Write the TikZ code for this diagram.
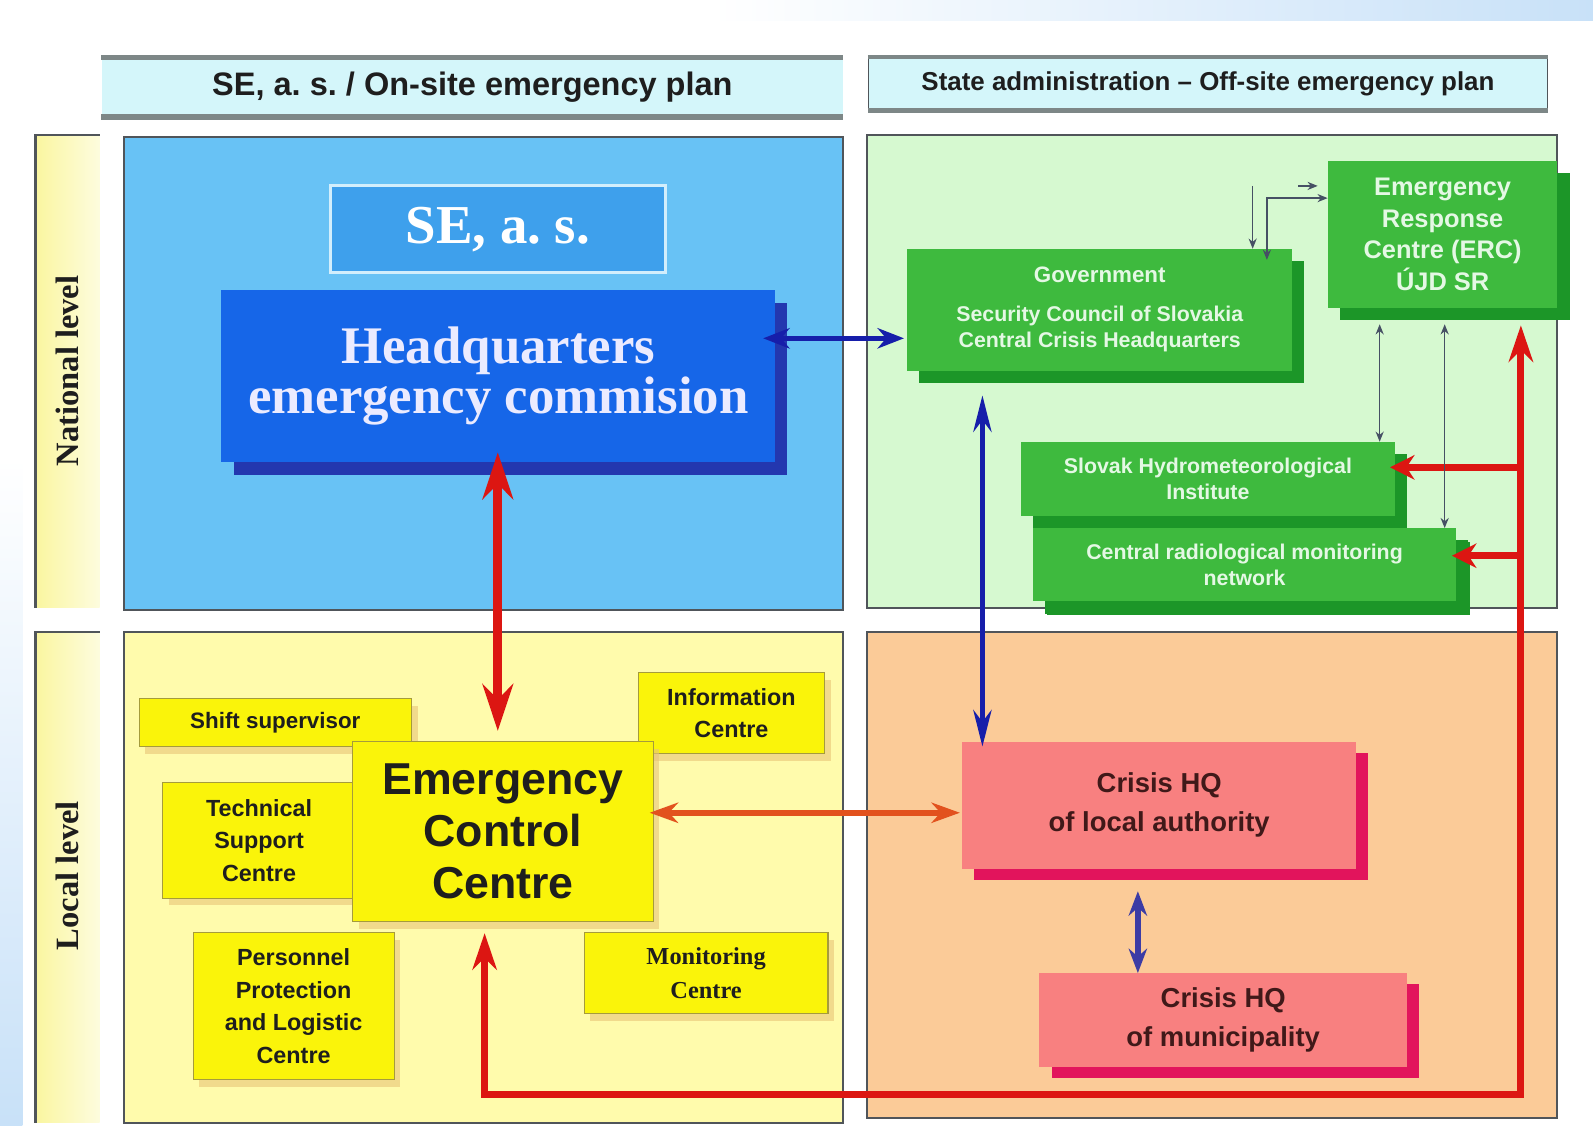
\documentclass[tikz,border=0pt]{standalone}
\usepackage{fontspec}
\setmainfont{Liberation Sans}
\newfontfamily\serifb{Liberation Serif}
\usetikzlibrary{arrows.meta,shadows}
\frenchspacing
\definecolor{bgblue}{RGB}{200,225,248}
\definecolor{hdrfill}{RGB}{212,246,250}
\definecolor{hdrgrey}{RGB}{125,135,135}
\definecolor{panelline}{RGB}{80,85,90}
\definecolor{lvlyellow}{RGB}{250,246,160}
\definecolor{pblue}{RGB}{104,194,245}
\definecolor{pgreen}{RGB}{214,249,208}
\definecolor{pyellow}{RGB}{255,251,172}
\definecolor{ppeach}{RGB}{251,203,152}
\definecolor{sefill}{RGB}{62,160,236}
\definecolor{seline}{RGB}{210,238,252}
\definecolor{hqfill}{RGB}{22,102,232}
\definecolor{hqshadow}{RGB}{35,55,175}
\definecolor{gfill}{RGB}{62,186,62}
\definecolor{gshadow}{RGB}{28,150,40}
\definecolor{gtext}{RGB}{228,248,228}
\definecolor{yfill}{RGB}{250,244,10}
\definecolor{yline}{RGB}{165,155,60}
\definecolor{yshadow}{RGB}{232,196,120}
\definecolor{sfill}{RGB}{248,128,128}
\definecolor{sshadow}{RGB}{226,20,92}
\definecolor{redarr}{RGB}{220,22,18}
\definecolor{orarr}{RGB}{226,82,30}
\definecolor{bluearr}{RGB}{22,30,170}
\definecolor{slatearr}{RGB}{60,60,165}
\definecolor{thinarr}{RGB}{70,80,100}
\definecolor{darktext}{RGB}{30,30,30}
\begin{document}
\begin{tikzpicture}[x=1pt,y=-1pt,
  panel/.style={draw=panelline, line width=2pt},
  box/.style={inner sep=0pt, align=center},
  gbox/.style={box, fill=gfill, text=gtext, font=\bfseries\fontsize{20}{26}\selectfont,
    drop shadow={shadow xshift=12pt, shadow yshift=-12pt, fill=gshadow, opacity=1}},
  ybox/.style={box, fill=yfill, draw=yline, line width=1pt, text=darktext,
    font=\bfseries\fontsize{23}{32}\selectfont,
    drop shadow={shadow xshift=6pt, shadow yshift=-7pt, fill=yshadow, opacity=0.6}},
  sbox/.style={box, fill=sfill, text=darktext!85!red, font=\bfseries\fontsize{27}{38}\selectfont,
    drop shadow={shadow xshift=12pt, shadow yshift=-11pt, fill=sshadow, opacity=1}},
  lvltext/.style={rotate=90, font=\serifb\bfseries\fontsize{32}{34}\selectfont, text=darktext},
  bigred/.style={draw=redarr, line width=9pt, arrows={Stealth[length=46pt,width=30pt]-Stealth[length=46pt,width=30pt]}},
  redloop/.style={draw=redarr, line width=7pt, line join=miter, arrows={Stealth[length=36pt,width=24pt]-Stealth[length=36pt,width=24pt]}},
  redbranch/.style={draw=redarr, line width=7pt, arrows={-Stealth[length=24pt,width=24pt]}},
  bluedbl/.style={draw=bluearr, line width=5pt, arrows={Stealth[length=26pt,width=20pt]-Stealth[length=26pt,width=20pt]}},
  bluevert/.style={draw=bluearr, line width=4.5pt, arrows={Stealth[length=36pt,width=18pt]-Stealth[length=36pt,width=18pt]}},
  orangedbl/.style={draw=orarr, line width=6pt, arrows={Stealth[length=28pt,width=20pt]-Stealth[length=28pt,width=20pt]}},
  slatedbl/.style={draw=slatearr, line width=6pt, arrows={Stealth[length=24pt,width=18pt]-Stealth[length=24pt,width=18pt]}},
  thindbl/.style={draw=thinarr, line width=1.3pt, arrows={Stealth[length=10pt,width=8pt]-Stealth[length=10pt,width=8pt]}},
  thinone/.style={draw=thinarr, line width=1.3pt, arrows={-Stealth[length=10pt,width=8pt]}}
]
\useasboundingbox (0,0) rectangle (1568,1108);
\fill[white] (0,0) rectangle (1568,1108);
\shade[left color=white, right color=bgblue] (700,0) rectangle (1568,20);
\shade[top color=white, bottom color=bgblue] (0,450) rectangle (22,1108);

% headers
\node[box, fill=hdrfill, minimum width=730pt, minimum height=58pt,
  font=\bfseries\fontsize{32}{34}\selectfont, text=darktext] (hl) at (465,86) {SE, a. s. / On-site emergency plan};
\draw[hdrgrey, line width=5pt] (hl.north west) -- (hl.north east);
\draw[hdrgrey, line width=5pt] (hl.south west) -- (hl.south east);
\node[box, fill=hdrfill, draw=panelline, line width=1.5pt, minimum width=668pt, minimum height=51pt,
  font=\bfseries\fontsize{25.5}{28}\selectfont, text=darktext] (hr) at (1189,82.5) {State administration -- Off-site emergency plan};
\draw[hdrgrey, line width=4pt] (hr.north west) -- (hr.north east);
\draw[hdrgrey, line width=4pt] (hr.south west) -- (hr.south east);

% level strips
\shade[left color=lvlyellow, right color=lvlyellow!35!white] (35,133) rectangle (98,598);
\draw[panelline, line width=2.5pt] (98,133) -| (35,598);
\node[lvltext] (natlbl) at (66,365) {National level};
\shade[left color=lvlyellow, right color=lvlyellow!35!white] (35,622) rectangle (98,1105);
\draw[panelline, line width=2.5pt] (98,622) -| (35,1105);
\node[lvltext] (loclbl) at (66,862) {Local level};

% panels
\filldraw[panel, fill=pblue] (122,135) rectangle (830,600);
\filldraw[panel, fill=pgreen] (853,133) rectangle (1533,598);
\filldraw[panel, fill=pyellow] (122,622) rectangle (830,1105);
\filldraw[panel, fill=ppeach] (853,622) rectangle (1533,1100);

% blue panel
\node[box, fill=sefill, draw=seline, line width=3pt, minimum width=330pt, minimum height=85pt,
  text=white, font=\serifb\bfseries\fontsize{54}{58}\selectfont] (se) at (490,225.5) {SE, a. s.};
\node[box, fill=hqfill, minimum width=545pt, minimum height=170pt, text=white!92!blue,
  drop shadow={shadow xshift=12pt, shadow yshift=-13pt, fill=hqshadow, opacity=1},
  font=\serifb\bfseries\fontsize{52}{50}\selectfont] (hq) at (490.5,370) {Headquarters\\emergency commision};

% green panel
\node[gbox, minimum width=379pt, minimum height=120pt, font=\bfseries\fontsize{22}{26}\selectfont] (gov) at (1082.5,305)
  {Government\\[12pt]{\fontsize{21}{26}\selectfont Security Council of Slovakia}\\{\fontsize{21}{26}\selectfont Central Crisis Headquarters}};
\node[gbox, minimum width=226pt, minimum height=145pt, font=\bfseries\fontsize{25}{31}\selectfont] (erc) at (1420,230.5)
  {Emergency\\Response\\Centre (ERC)\\ÚJD SR};
\node[gbox, minimum width=368pt, minimum height=73pt, font=\bfseries\fontsize{21}{26}\selectfont] (hydro) at (1189,471.5)
  {Slovak Hydrometeorological\\Institute};
\node[gbox, minimum width=416pt, minimum height=72pt, font=\bfseries\fontsize{21}{26}\selectfont,
  drop shadow={shadow xshift=14pt, shadow yshift=-13pt, fill=gshadow, opacity=1}] (crmn) at (1225,556)
  {Central radiological monitoring\\network};

% yellow panel
\node[ybox, minimum width=268pt, minimum height=47pt, font=\bfseries\fontsize{22}{26}\selectfont] (shift) at (271,711.5) {Shift supervisor};
\node[ybox, minimum width=184pt, minimum height=80pt] (info) at (720,702) {Information\\Centre};
\node[ybox, minimum width=190pt, minimum height=114pt] (tech) at (255,827) {Technical\\Support\\Centre};
\node[ybox, minimum width=198pt, minimum height=145pt] (pers) at (289,990.5) {Personnel\\Protection\\and Logistic\\Centre};
\node[ybox, minimum width=240pt, minimum height=80pt, font=\serifb\bfseries\fontsize{24}{33}\selectfont] (mon) at (695,958) {Monitoring\\Centre};
\node[ybox, minimum width=296pt, minimum height=177pt, font=\bfseries\fontsize{44}{51}\selectfont] (ecc) at (495,818.5) {Emergency\\Control\\Centre};

% peach panel
\node[sbox, minimum width=388pt, minimum height=125pt] (chqL) at (1141,792.5) {Crisis HQ\\of local authority};
\node[sbox, minimum width=362pt, minimum height=92pt] (chqM) at (1204,1004) {Crisis HQ\\of municipality};

% connectors
\coordinate (xHE) at (490,0);
\draw[bigred, shorten <=-10pt, shorten >=10pt] (hq.south -| xHE) -- (ecc.north -| xHE);

\coordinate (yHG) at (0,333);
\draw[bluedbl, shorten <=-12pt, shorten >=3pt] (hq.east |- yHG) -- (gov.west |- yHG);

\coordinate (xGC) at (967,0);
\draw[bluevert, shorten <=24pt, shorten >=-5pt] (gov.south -| xGC) -- (chqL.north -| xGC);

\coordinate (yEC) at (0,800);
\draw[orangedbl, shorten <=-4pt, shorten >=2pt] (ecc.east |- yEC) -- (chqL.west |- yEC);

\coordinate (xLM) at (1120,0);
\draw[slatedbl, shorten <=22pt] (chqL.south -| xLM) -- (chqM.north -| xLM);

\coordinate (rl) at (477,1077);
\coordinate (rr) at (1497,1077);
\draw[redloop, shorten <=11pt, shorten >=17pt] (ecc.south -| rl) -- (rl) -- (rr) -- (erc.south -| rr);

\coordinate (bh) at (1497,460);
\draw[redbranch, shorten >=-5pt] (bh) -- (hydro.east |- bh);
\coordinate (bc) at (1497,547);
\draw[redbranch, shorten >=-4pt] (bc) -- (crmn.east |- bc);

\coordinate (xt1) at (1358,0);
\draw[thindbl, shorten <=16pt] (erc.south -| xt1) -- (hydro.north -| xt1);
\coordinate (xt2) at (1422,0);
\draw[thindbl, shorten <=16pt] (erc.south -| xt2) -- (crmn.north -| xt2);

\coordinate (tl) at (1233,183);
\draw[thinone] (tl) -- (gov.north -| tl);
\coordinate (xB) at (1247,0);
\coordinate (yB) at (0,195);
\draw[thindbl, shorten <=-11pt] (gov.north -| xB) |- (erc.west |- yB);
\coordinate (ts1) at (1278,183);
\coordinate (ts2) at (1297,183);
\draw[thinone] (ts1) -- (ts2);
\end{tikzpicture}
\end{document}
